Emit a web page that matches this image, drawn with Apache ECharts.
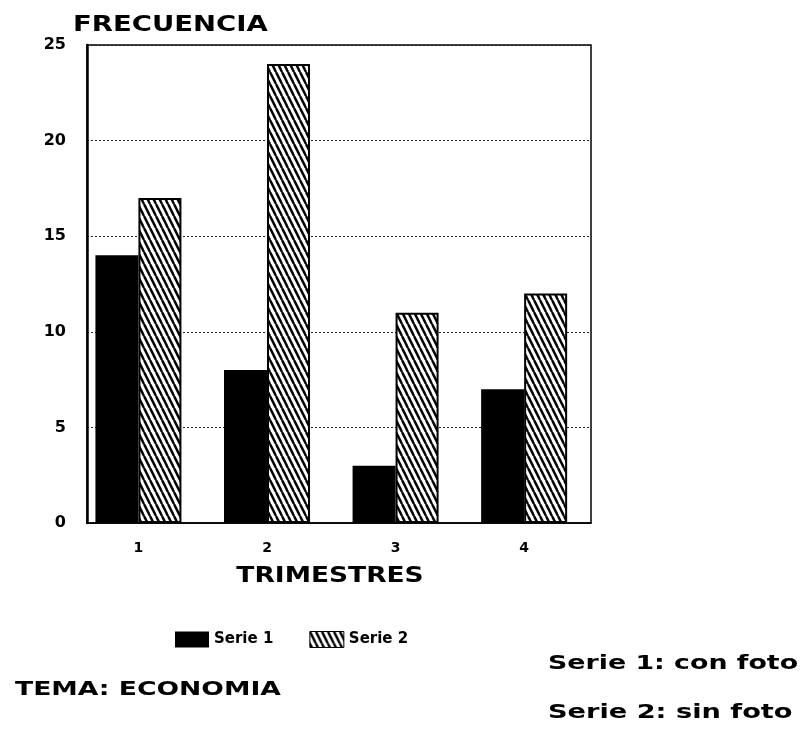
<!DOCTYPE html>
<html>
<head>
<meta charset="utf-8">
<script src="https://cdn.jsdelivr.net/npm/echarts@6/dist/echarts.min.js"></script>
<style>
  html, body { margin: 0; padding: 0; background: #fff; }
  #chart { width: 803px; height: 730px; }
</style>
</head>
<body>
<div id="chart"></div>
<script>
// datos
var trimestres = ['1', '2', '3', '4'];
var serie1 = [14, 8, 3, 7];
var serie2 = [17, 24, 11, 12];
var yTicks = [0, 5, 10, 15, 20, 25];

var fuente = 'DejaVu Sans';

// trama rayada para la serie 2
var rayado = function () {
    var c = document.createElement('canvas');
    c.width = 6;
    c.height = 12;
    var ctx = c.getContext('2d');
    ctx.fillStyle = '#fff';
    ctx.fillRect(0, 0, 6, 12);
    ctx.strokeStyle = '#000';
    ctx.lineWidth = 2.4;
    for (var x0 = -6; x0 <= 6; x0 += 6) {
        ctx.beginPath();
        ctx.moveTo(x0, 0);
        ctx.lineTo(x0 + 6, 12);
        ctx.stroke();
    }
    return c;
};

var puntos = function (arr) {
    var out = [];
    for (var i = 0; i < arr.length; i++) {
        out.push([Number(trimestres[i]), arr[i]]);
    }
    return out;
};

// texto ancho (el original tiene letras muy separadas)
var texto = function (txt, x, y, size, sx, align) {
    return {
        type: 'text', x: x, y: y, scaleX: sx,
        style: {
            text: txt, fontFamily: fuente, fontWeight: 'bold', fontSize: size, fill: '#000',
            align: align || 'left', verticalAlign: 'middle'
        }
    };
};

var chart = echarts.init(document.getElementById('chart'));
var patron = { image: rayado(), repeat: 'repeat' };

var option = {
    animation: false,
    grid: {
        left: 87, right: 212, top: 45, bottom: 207,
        show: true, borderColor: '#000', borderWidth: 1.5, backgroundColor: '#fff'
    },
    legend: {
        left: 170,
        top: 626,
        itemWidth: 34,
        itemHeight: 16,
        itemGap: 36,
        textStyle: { fontFamily: fuente, fontWeight: 'bold', fontSize: 15, color: '#000' },
        data: [
            { name: 'Serie 1', icon: 'rect', itemStyle: { color: '#000', borderWidth: 0 } },
            { name: 'Serie 2', icon: 'rect', itemStyle: { color: patron, borderColor: '#000', borderWidth: 1 } }
        ]
    },
    xAxis: {
        type: 'value',
        min: 0.6,
        max: 4.52,
        axisLine: { show: true, lineStyle: { color: '#000', width: 1.5 } },
        axisTick: { show: false },
        splitLine: { show: false },
        axisLabel: {
            customValues: [1, 2, 3, 4],
            margin: 18,
            fontFamily: fuente, fontWeight: 'bold', fontSize: 14, color: '#000',
            formatter: function (v) {
                var k = trimestres.indexOf(String(v));
                return k >= 0 ? trimestres[k] : '';
            }
        }
    },
    yAxis: {
        type: 'value',
        min: 0,
        max: 25,
        interval: 5,
        axisLine: { show: true, lineStyle: { color: '#000', width: 2.5 } },
        axisTick: { show: false },
        axisLabel: {
            margin: 21,
            fontFamily: fuente, fontWeight: 'bold', fontSize: 16, color: '#000',
            formatter: function (v) { return yTicks.indexOf(v) >= 0 ? String(v) : ''; }
        },
        splitLine: { show: true, lineStyle: { color: '#222', width: 1, type: [2, 2] } }
    },
    series: [
        {
            name: 'Serie 1',
            type: 'bar',
            barWidth: 43,
            barGap: 0,
            itemStyle: { color: '#000' },
            data: puntos(serie1)
        },
        {
            name: 'Serie 2',
            type: 'bar',
            barWidth: 43,
            barGap: 0,
            itemStyle: { color: patron, borderColor: '#000', borderWidth: 2 },
            data: puntos(serie2)
        }
    ],
    graphic: [
        texto('FRECUENCIA', 73, 25, 22, 1.25),
        texto('TRIMESTRES', 330, 577, 21, 1.26, 'center'),
        texto('TEMA: ECONOMIA', 15, 690, 20, 1.33),
        texto('Serie 1: con foto', 548, 664, 20, 1.34),
        texto('Serie 2: sin foto', 548, 713, 20, 1.36)
    ]
};

chart.setOption(option);
</script>
</body>
</html>
